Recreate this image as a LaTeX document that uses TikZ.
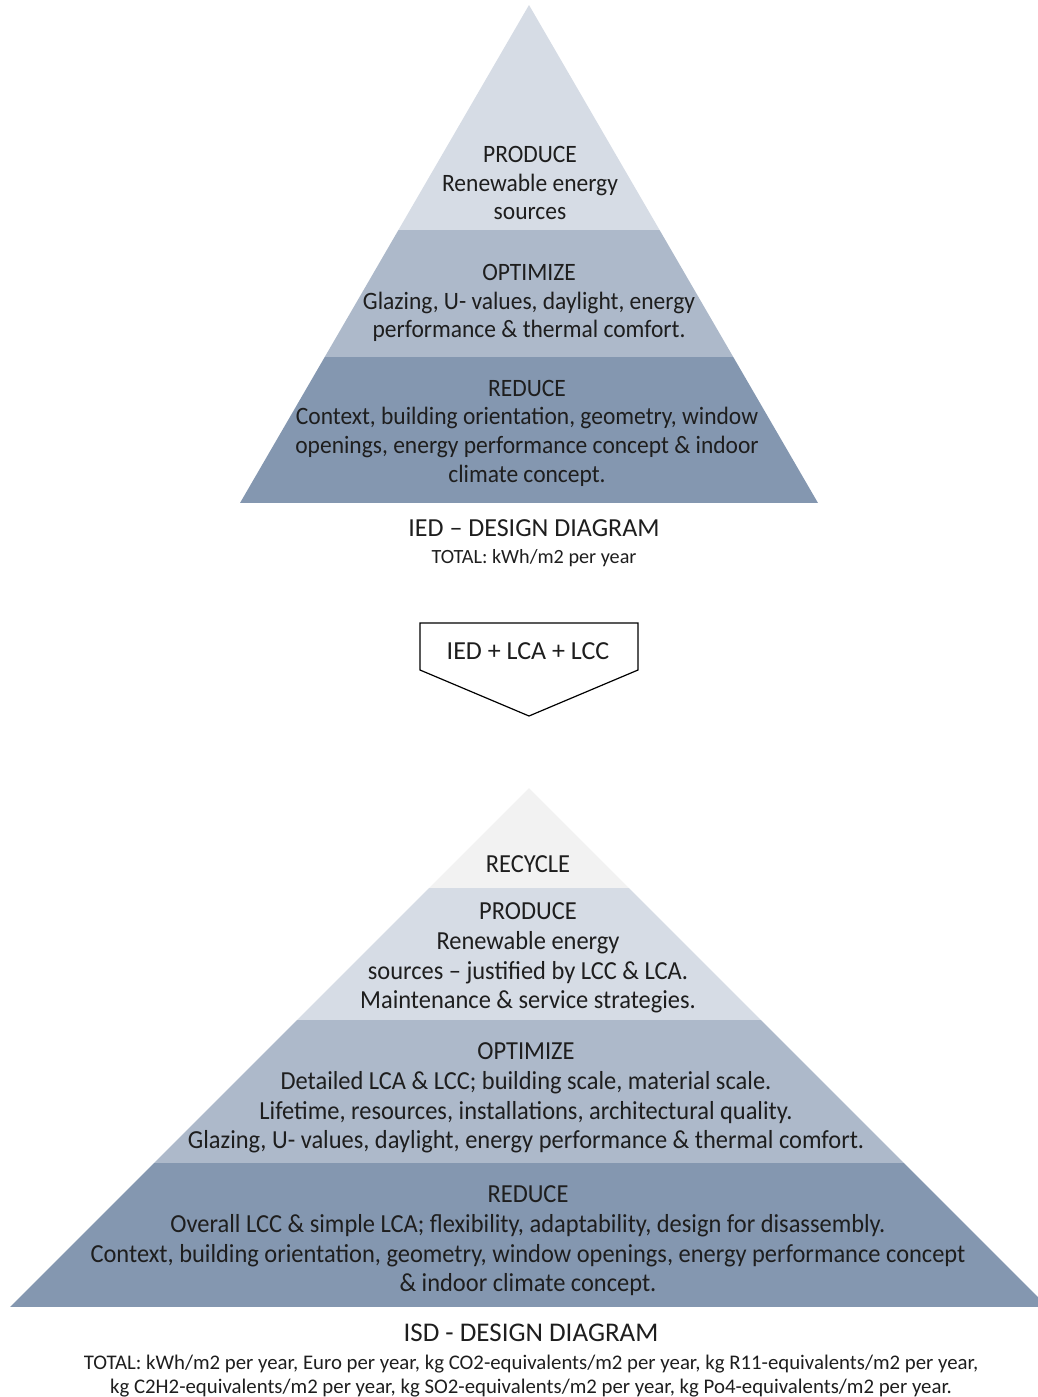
\documentclass[tikz,border=0pt]{standalone}
\usepackage{fontspec}
\setmainfont{Carlito}
\newfontfamily\layerfont[FakeStretch=0.94, Ligatures=TeX]{Carlito}
\usepackage{xcolor}
\definecolor{RecycleGray}{HTML}{F2F2F2}
\definecolor{ProduceBlue}{HTML}{D6DCE5}
\definecolor{OptimizeBlue}{HTML}{ADB9CA}
\definecolor{ReduceBlue}{HTML}{8497B0}
\definecolor{InkBlack}{HTML}{1E1E1E}
\usetikzlibrary{positioning}

\begin{document}
\begin{tikzpicture}[x=0.5pt, y=-0.5pt,
    layer/.style={align=center, inner sep=0pt, text=InkBlack, font=\layerfont\fontsize{12.5}{14.3}\selectfont},
    biglayer/.style={layer, font=\layerfont\fontsize{13}{14.8}\selectfont},
    title/.style={align=center, inner sep=0pt, text=InkBlack, font=\fontsize{13}{15}\selectfont},
    total/.style={align=center, inner sep=0pt, text=InkBlack, font=\fontsize{10.1}{12}\selectfont},
    pointer/.style={draw=black, line width=0.6pt, fill=white, line join=miter}
]
\useasboundingbox (0,0) rectangle (1038,1397);
\clip (0,0) rectangle (1038,1397);

% IED pyramid
\coordinate (topA) at (529,5);
\coordinate (leftA) at (240,503);
\coordinate (rightA) at (818,503);
\begin{scope}
    \clip (topA) -- (leftA) -- (rightA) -- cycle;
    \foreach \ya/\yb/\col in {0/230/ProduceBlue, 230/357/OptimizeBlue, 357/503/ReduceBlue} {
        \fill[\col] (0,\ya) rectangle (1038,\yb);
    }
\end{scope}

\node[layer] (produceA) at (530,183) {PRODUCE\\Renewable energy\\sources};
\node[layer] (optimizeA) at (529,303) {OPTIMIZE\\Glazing, U- values, daylight, energy\\performance \& thermal comfort.};
\node[layer] (reduceA) at (527,433) {REDUCE\\Context, building orientation, geometry, window\\openings, energy performance concept \& indoor\\climate concept.};

\node[title] (titleA) at (534,528) {IED – DESIGN DIAGRAM};
\node[total, below=6pt of titleA] (totalA) {TOTAL: kWh/m2 per year};

% Transition arrow
\draw[pointer] (420,623) -- (638,623) -- (638,670) -- (529,716) -- (420,670) -- cycle;
\node[title] (step) at (528,651) {IED + LCA + LCC};

% ISD pyramid
\coordinate (topB) at (529,788);
\coordinate (leftB) at (10,1307);
\coordinate (rightB) at (1048,1307);
\begin{scope}
    \clip (topB) -- (leftB) -- (rightB) -- cycle;
    \foreach \ya/\yb/\col in {780/888/RecycleGray, 888/1020/ProduceBlue, 1020/1163/OptimizeBlue, 1163/1307/ReduceBlue} {
        \fill[\col] (0,\ya) rectangle (1048,\yb);
    }
\end{scope}

\node[biglayer] (recycleB) at (528,864) {RECYCLE};
\node[biglayer] (produceB) at (528,958) {PRODUCE\\Renewable energy\\sources – justified by LCC \& LCA.\\Maintenance \& service strategies.};
\node[biglayer] (optimizeB) at (526,1098) {OPTIMIZE\\Detailed LCA \& LCC; building scale, material scale.\\Lifetime, resources, installations, architectural quality.\\Glazing, U- values, daylight, energy performance \& thermal comfort.};
\node[biglayer] (reduceB) at (528,1241) {REDUCE\\Overall LCC \& simple LCA; flexibility, adaptability, design for disassembly.\\Context, building orientation, geometry, window openings, energy performance concept\\\& indoor climate concept.};

\node[title, font=\fontsize{13.5}{15}\selectfont] (titleB) at (531,1333) {ISD - DESIGN DIAGRAM};
\node[total, font=\fontsize{10.4}{12}\selectfont, below=6pt of titleB] (totalB) {TOTAL: kWh/m2 per year, Euro per year, kg CO2-equivalents/m2 per year, kg R11-equivalents/m2 per year,\\kg C2H2-equivalents/m2 per year, kg SO2-equivalents/m2 per year, kg Po4-equivalents/m2 per year.};

\end{tikzpicture}
\end{document}
